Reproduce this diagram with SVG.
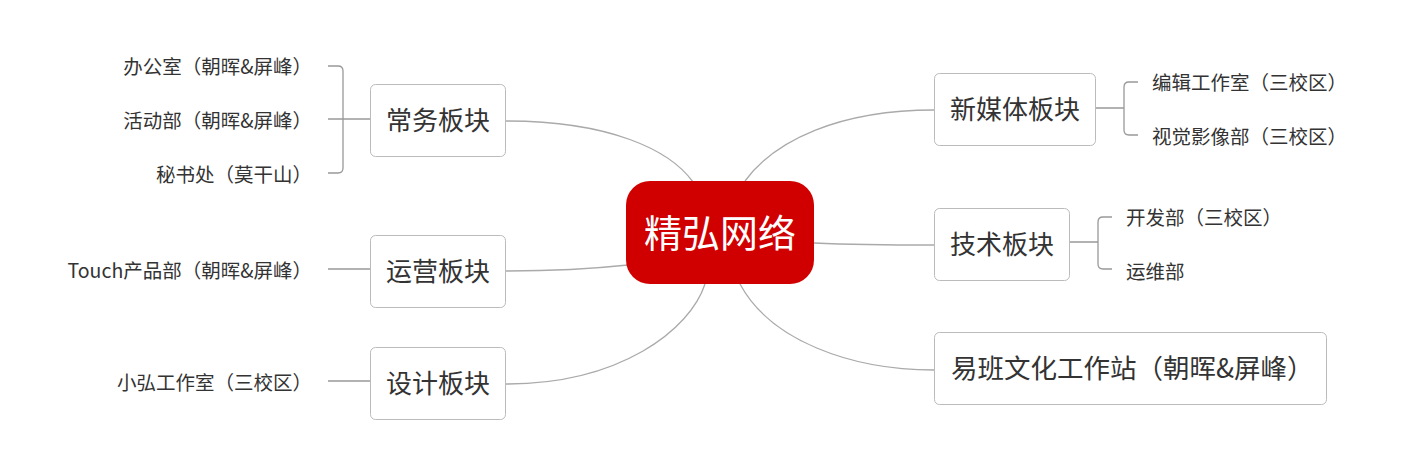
<svg xmlns="http://www.w3.org/2000/svg" width="1418" height="468" viewBox="0 0 1418 468">
<style>
text{font-family:"Noto Sans CJK SC","Microsoft YaHei",sans-serif;fill:#333}
.box{fill:#fff;stroke:#bbb;stroke-width:1}
.main{font-size:26px;text-anchor:middle}
.leaf{font-size:19.5px}
.end{text-anchor:end}
.curve{fill:none;stroke:#aaa;stroke-width:1.3}
.br{fill:none;stroke:#999;stroke-width:1.3}
</style>
<rect width="1418" height="468" fill="#fff"/>
<g id="connectors">
<path class="curve" d="M506 121 C610 121 670 150 693 182"/>
<path class="curve" d="M506 271 C560 271 600 268 628 265"/>
<path class="curve" d="M506 384 C620 384 690 330 705 284"/>
<path class="curve" d="M745 181 C775 140 840 110 934 110"/>
<path class="curve" d="M814 243 C860 245 900 245 934 245"/>
<path class="curve" d="M740 284 C770 340 850 370 934 370"/>
<path class="br" d="M328 66 H338 Q343 66 343 71 V168 Q343 173 338 173 H328 M328 119 H370"/>
<path class="br" d="M328 269 H370"/>
<path class="br" d="M328 381 H370"/>
<path class="br" d="M1096 108 H1124 M1138 82 H1129 Q1124 82 1124 87 V130 Q1124 135 1129 135 H1138"/>
<path class="br" d="M1070 242 H1098 M1112 217 H1103 Q1098 217 1098 222 V264 Q1098 269 1103 269 H1112"/>
</g>
<g id="center">
<rect x="626" y="181" width="188" height="103" rx="24" fill="#d10000"/>
<text x="720" y="247" font-size="38" text-anchor="middle" style="fill:#fff">精弘网络</text>
</g>
<g id="changwu">
<rect class="box" x="370.5" y="84.5" width="135" height="72" rx="5"/>
<text class="main" x="438" y="130">常务板块</text>
</g>
<g id="changwu-leaves">
<text class="leaf end" x="312" y="74">办公室（朝晖&amp;屏峰）</text>
<text class="leaf end" x="312" y="128">活动部（朝晖&amp;屏峰）</text>
<text class="leaf end" x="312" y="182">秘书处（莫干山）</text>
</g>
<g id="yunying">
<rect class="box" x="370.5" y="235.5" width="135" height="72" rx="5"/>
<text class="main" x="438" y="281">运营板块</text>
<text class="leaf end" x="312" y="278">Touch产品部（朝晖&amp;屏峰）</text>
</g>
<g id="sheji">
<rect class="box" x="370.5" y="347.5" width="135" height="72" rx="5"/>
<text class="main" x="438" y="393">设计板块</text>
<text class="leaf end" x="312" y="390">小弘工作室（三校区）</text>
</g>
<g id="xinmeiti">
<rect class="box" x="934.5" y="73.5" width="161" height="72" rx="5"/>
<text class="main" x="1015" y="119">新媒体板块</text>
<text class="leaf" x="1152" y="90">编辑工作室（三校区）</text>
<text class="leaf" x="1152" y="144">视觉影像部（三校区）</text>
</g>
<g id="jishu">
<rect class="box" x="934.5" y="208.5" width="135" height="72" rx="5"/>
<text class="main" x="1002" y="254">技术板块</text>
<text class="leaf" x="1126" y="225">开发部（三校区）</text>
<text class="leaf" x="1126" y="279">运维部</text>
</g>
<g id="yiban">
<rect class="box" x="934.5" y="332.5" width="392" height="72" rx="5"/>
<text x="951" y="378" style="font-size:26.5px">易班文化工作站（朝晖&amp;屏峰）</text>
</g>
</svg>
